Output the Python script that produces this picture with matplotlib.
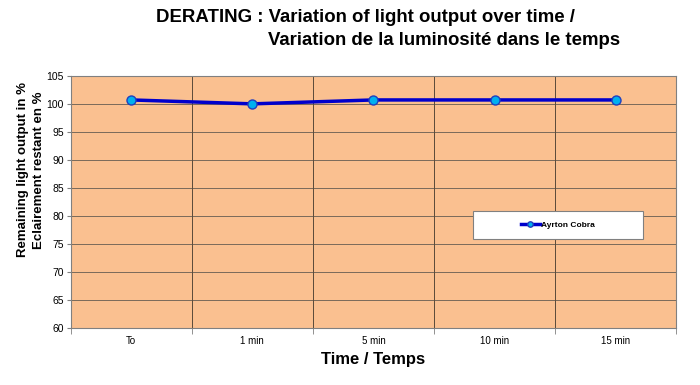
import numpy as np
import matplotlib
matplotlib.use("Agg")
from matplotlib import pyplot as plt
from matplotlib.patches import Rectangle

# data
times = ["To", "1 min", "5 min", "10 min", "15 min"]
light = [100.7, 100.0, 100.7, 100.7, 100.7]
series_name = "Ayrton Cobra"
yticks = list(range(60, 106, 5))

plt.rcParams['font.family'] = ['Liberation Sans', 'DejaVu Sans']

fig = plt.figure(figsize=(7, 3.85), dpi=100)
ax = fig.add_axes([0.101, 0.148, 0.865, 0.655])
ax.set_facecolor("#FAC090")

x = np.arange(len(times))
ax.plot(x, light, color="#0000CC", lw=2.5, marker="o", ms=6.5,
        mfc="#00B0F0", mec="#1F3FBF", mew=1, label=series_name, zorder=3)

ax.set_xlim(-0.5, len(times) - 0.5)
ax.set_ylim(60, 105)
ax.set_yticks(yticks)
ax.set_xticks(x)
ax.set_xticklabels(times, fontsize=7)
ax.set_xticks(np.arange(-0.5, len(times), 1), minor=True)
ax.tick_params(axis="x", which="major", length=0, pad=6)
ax.tick_params(axis="x", which="minor", length=4, color="#808080")
ax.tick_params(axis="y", labelsize=7.5, length=3, color="#808080", pad=2)

# grid
for yv in yticks:
    ax.axhline(yv, color="#7a6a5a", lw=0.7, zorder=1)
ax.grid(True, axis="x", which="minor", color="#5a4a3a", lw=0.7)
for s in ax.spines.values():
    s.set_color("#808080")
    s.set_linewidth(0.8)

ax.set_xlabel("Time / Temps", fontsize=12, fontweight="bold", labelpad=4)
ax.set_ylabel("Remaining light output in %\nEclairement restant en %",
              fontsize=9.5, fontweight="bold", linespacing=1.45)
ax.yaxis.label.set_va("center")
ax.yaxis.set_label_coords(-0.065, 0.627)

fig.text(0.223, 0.955, "DERATING : Variation of light output over time /",
         fontsize=13.4, fontweight="bold", va="center", ha="left")
fig.text(0.383, 0.895, "Variation de la luminosité dans le temps",
         fontsize=13.4, fontweight="bold", va="center", ha="left")

# legend box
ax.add_patch(Rectangle((0.664, 0.353), 0.281, 0.111, transform=ax.transAxes,
                       facecolor="white", edgecolor="#808080", lw=0.8, zorder=4))
leg = ax.legend(loc="center", bbox_to_anchor=(0.805, 0.408), frameon=False,
                prop={"size": 6, "weight": "bold"}, handlelength=2.2,
                handletextpad=0.2, markerscale=0.6)
leg.set_zorder(5)

fig.savefig("out.png", dpi=100)
